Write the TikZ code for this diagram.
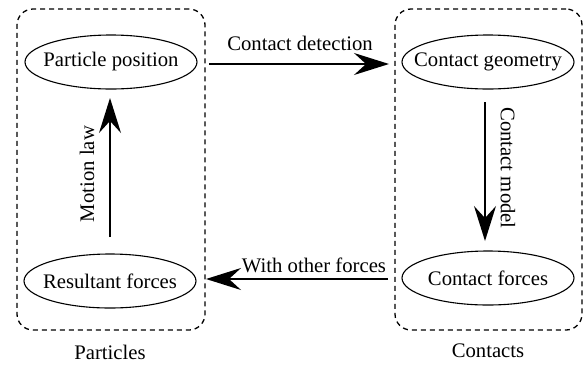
\documentclass[tikz,border=0pt]{standalone}
\usepackage{fontspec}
\setmainfont{Liberation Serif}
\usetikzlibrary{arrows.meta,shapes.geometric}
\begin{document}
\begin{tikzpicture}[x=1pt,y=-1pt,
  every node/.style={font=\fontsize{20.7}{24}\selectfont},
  state/.style={draw,ellipse,line width=1.1pt,minimum width=172pt,minimum height=54pt,inner sep=0pt},
  cluster/.style={draw,dashed,dash pattern=on 5pt off 4pt,line width=1.3pt,rounded corners=16pt,inner sep=0pt},
  arr/.style={line width=1.6pt,-{Stealth[length=35pt,width=22pt,inset=12pt]}},
  lbl/.style={inner sep=0pt}]
\useasboundingbox (0,0) rectangle (583,365);
\node[cluster,minimum width=188pt,minimum height=321pt] (lbox) at (111,169.5) {};
\node[cluster,minimum width=187pt,minimum height=321pt] (rbox) at (488.5,169.5) {};
\node[state,label={[lbl]center:Particle position}] (pp) at (111,62) {};
\node[state,label={[lbl]center:Contact geometry}] (cg) at (488,62) {};
\node[state,label={[lbl]center:Resultant forces}] (rf) at (110,281) {};
\node[state,label={[lbl]center:Contact forces}] (cf) at (488,278) {};
\node[lbl] (plab) at (110,352) {Particles};
\node[lbl] (clab) at (488,351) {Contacts};
\coordinate (a1) at (209,64);
\coordinate (a2) at (389,64);
\draw[arr] (a1) -- (a2);
\node[lbl] at (300,43) {Contact detection};
\coordinate (b1) at (110,237);
\coordinate (b2) at (110,98);
\draw[arr] (b1) -- (b2);
\node[lbl,rotate=90] at (87,174) {Motion law};
\coordinate (c1) at (485,102);
\coordinate (c2) at (485,241);
\draw[arr] (c1) -- (c2);
\node[lbl,rotate=-90] at (508,168) {Contact model};
\coordinate (d1) at (388,279);
\coordinate (d2) at (206,279);
\draw[arr] (d1) -- (d2);
\node[lbl] at (314,265) {With other forces};
\end{tikzpicture}
\end{document}
